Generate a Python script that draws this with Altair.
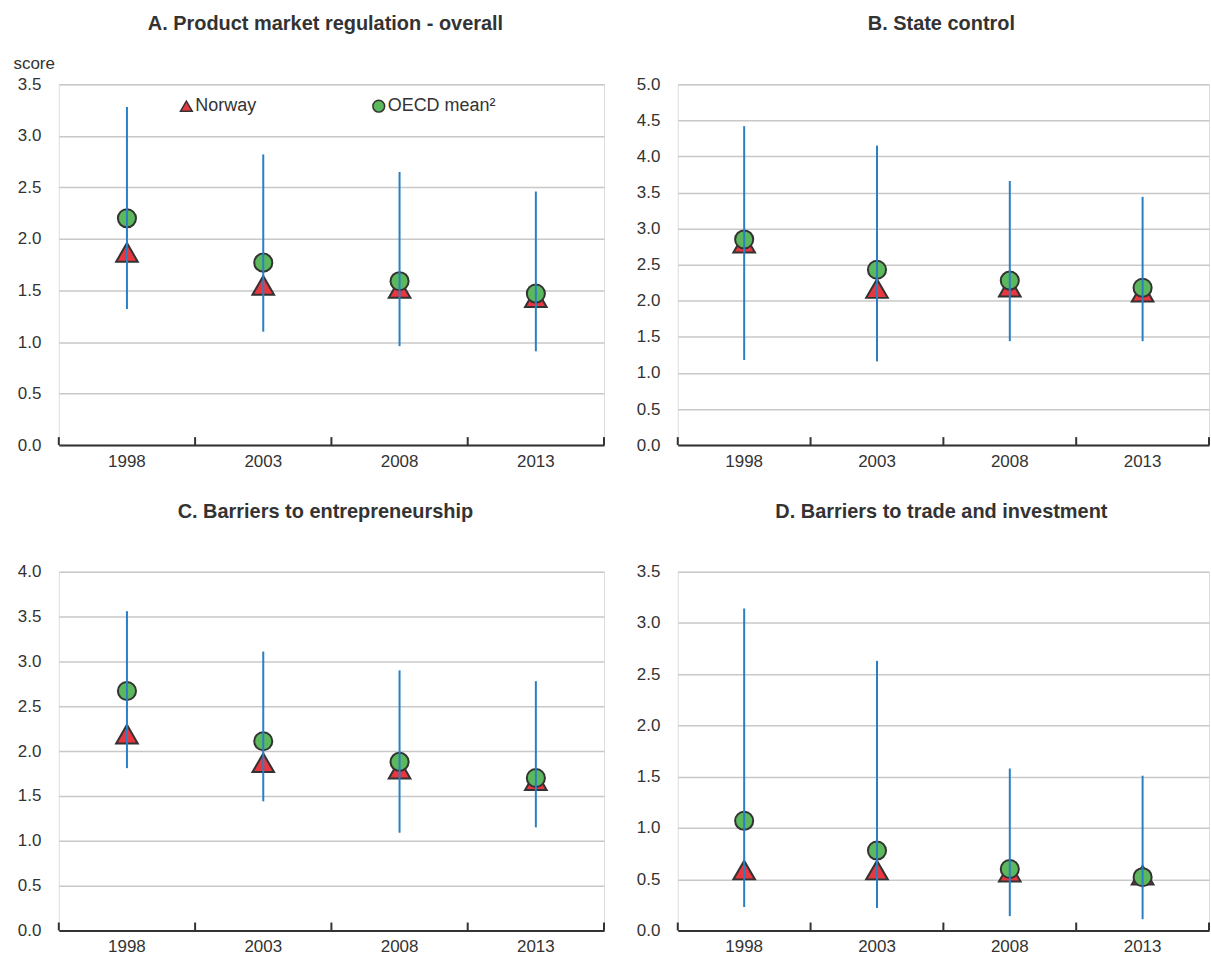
import altair as alt
import pandas as pd

years = ["1998", "2003", "2008", "2013"]

# Panel A: Product market regulation - overall
a_norway = [1.87, 1.55, 1.52, 1.43]
a_oecd = [2.20, 1.77, 1.59, 1.47]
a_low = [1.32, 1.10, 0.96, 0.91]
a_high = [3.28, 2.82, 2.65, 2.46]

# Panel B: State control
b_norway = [2.80, 2.17, 2.19, 2.12]
b_oecd = [2.85, 2.43, 2.28, 2.18]
b_low = [1.18, 1.16, 1.44, 1.44]
b_high = [4.42, 4.15, 3.66, 3.44]

# Panel C: Barriers to entrepreneurship
c_norway = [2.19, 1.87, 1.80, 1.67]
c_oecd = [2.67, 2.11, 1.88, 1.70]
c_low = [1.81, 1.44, 1.09, 1.15]
c_high = [3.56, 3.11, 2.90, 2.78]

# Panel D: Barriers to trade and investment
d_norway = [0.59, 0.59, 0.57, 0.54]
d_oecd = [1.07, 0.78, 0.60, 0.52]
d_low = [0.23, 0.22, 0.14, 0.11]
d_high = [3.14, 2.63, 1.58, 1.51]

series_names = ["Norway", "OECD mean\u00b2"]
series_fill = ["#e8373f", "#5cb85c"]
series_shape = ["triangle-up", "circle"]
series_stroke = ["#333333", "#333333"]

FONT = "Liberation Sans"
TXT = "#333333"


def panel(title, norway, oecd, low, high, ymax, width, height, title_offset, title_dx,
          show_score=False):
    nor = pd.DataFrame({"year": years, "series": series_names[0], "value": norway})
    oec = pd.DataFrame({"year": years, "series": series_names[1], "value": oecd})
    rng = pd.DataFrame({"year": years, "low": low, "high": high})
    tk = pd.DataFrame({"year": years})

    xscale = alt.Scale(domain=years, paddingInner=0, paddingOuter=0)
    yvals = [round(i * 0.5, 1) for i in range(int(round(ymax / 0.5)) + 1)]
    yscale = alt.Scale(domain=[0, ymax], nice=False, zero=True)

    ykw = dict(
        values=yvals, format=".1f", grid=True, gridColor="#c8c8c8", gridWidth=1.5,
        domain=False, ticks=False, labelFontSize=17, labelColor=TXT, labelFont=FONT,
        labelPadding=18, labelOverlap=False, labelBound=False,
    )
    if show_score:
        yaxis = alt.Axis(
            title="score", titleAngle=0, titleFontSize=17, titleFontWeight="normal",
            titleColor=TXT, titleFont=FONT, titleAlign="left", titleBaseline="alphabetic",
            titleX=-46, titleY=-16, **ykw)
    else:
        yaxis = alt.Axis(title=None, **ykw)

    xaxis = alt.Axis(
        title=None, labelAngle=0, ticks=False, domainColor="#333333", domainWidth=2,
        labelFontSize=17, labelColor=TXT, labelFont=FONT, labelPadding=8, grid=False,
    )

    if show_score:
        leg = alt.Legend(
            title=None, orient="none", direction="horizontal",
            legendX=119, legendY=13, columnPadding=113,
            labelFontSize=18, labelFont=FONT, labelColor=TXT,
            symbolSize=140, symbolStrokeColor="#333333", symbolStrokeWidth=1.5,
            labelOffset=0,
        )
    else:
        leg = None

    fill = alt.Fill("series:N", scale=alt.Scale(domain=series_names, range=series_fill), legend=leg)
    shape = alt.Shape("series:N", scale=alt.Scale(domain=series_names, range=series_shape), legend=leg)
    stroke = alt.Stroke("series:N", scale=alt.Scale(domain=series_names, range=series_stroke), legend=leg)
    x = alt.X("year:N", scale=xscale, axis=xaxis, sort=years)
    y = alt.Y("value:Q", scale=yscale, axis=yaxis)

    tri = alt.Chart(nor).mark_point(
        filled=True, strokeWidth=2, opacity=1, size=470
    ).encode(x=x, y=y, fill=fill, shape=shape, stroke=stroke)

    circ = alt.Chart(oec).mark_point(
        filled=True, strokeWidth=2, opacity=1, size=330
    ).encode(x=x, y=y, fill=fill, shape=shape, stroke=stroke)

    rules = alt.Chart(rng).mark_rule(color="#2a7fc4", strokeWidth=2).encode(
        x=alt.X("year:N", scale=xscale, sort=years, axis=xaxis),
        y=alt.Y("low:Q", scale=yscale, axis=yaxis),
        y2="high:Q",
    )

    ticks = alt.Chart(tk).mark_rule(color="#333333", strokeWidth=2).encode(
        x=alt.X("year:N", scale=xscale, sort=years, bandPosition=0, axis=xaxis),
        y=alt.datum(0, axis=yaxis, scale=yscale),
        y2=alt.value(height - 8),
    )
    ticks_end = alt.Chart(tk).transform_filter(alt.datum.year == years[-1]).mark_rule(
        color="#333333", strokeWidth=2
    ).encode(
        x=alt.X("year:N", scale=xscale, sort=years, bandPosition=1, axis=xaxis),
        y=alt.datum(0, axis=yaxis, scale=yscale),
        y2=alt.value(height - 8),
    )

    return alt.layer(tri, circ, rules, ticks, ticks_end).properties(
        width=width, height=height,
        title=alt.TitleParams(title, fontSize=20, fontWeight="bold", color=TXT, font=FONT,
                              anchor="middle", offset=title_offset, dx=title_dx),
    )


W_L, W_R = 547, 533
H1, H2 = 362, 360
pa = panel("A. Product market regulation - overall", a_norway, a_oecd, a_low, a_high, 3.5, W_L, H1, 20, -6, True)
pb = panel("B. State control", b_norway, b_oecd, b_low, b_high, 5.0, W_R, H1, 41, -2)
pc = panel("C. Barriers to entrepreneurship", c_norway, c_oecd, c_low, c_high, 4.0, W_L, H2, 41, -6)
pd_ = panel("D. Barriers to trade and investment", d_norway, d_oecd, d_low, d_high, 3.5, W_R, H2, 41, -2)

RES = dict(fill="independent", shape="independent", stroke="independent")
row1 = alt.hconcat(pa, pb, spacing=29).resolve_legend(**RES)
row2 = alt.hconcat(pc, pd_, spacing=29).resolve_legend(**RES)

chart = alt.vconcat(row1, row2, spacing=31).resolve_legend(**RES).properties(
    padding={"left": 12, "top": 12, "right": 0, "bottom": 0}
).configure_view(stroke="transparent", strokeWidth=0).configure(font=FONT)

chart.save("out.html", embed_options={"renderer": "svg", "actions": False})
